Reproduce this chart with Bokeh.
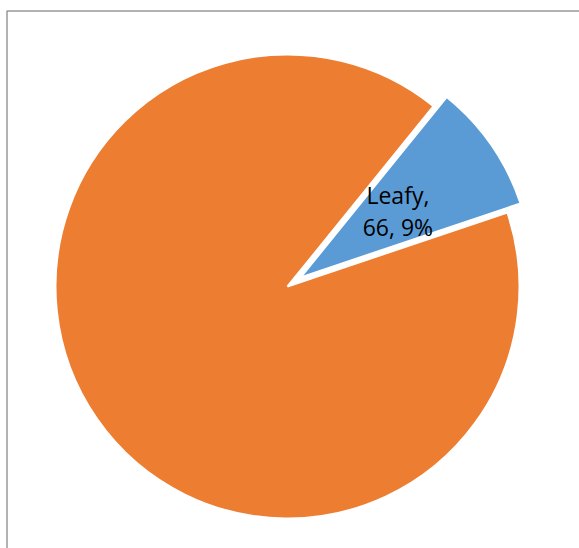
import math
from bokeh.plotting import figure
from bokeh.models import Range1d, ColumnDataSource
from bokeh.core.properties import value
from bokeh.embed import file_html
from bokeh.resources import INLINE

# ---- data ----
categories = ["Leafy", "Other"]
values = [66, 667]
colors = ["#5B9BD5", "#ED7D31"]
show_label = [True, False]
explode = [16, 0]          # px offset along bisector
first_slice_angle = 39     # degrees clockwise from 12 o'clock

W, H = 579, 548
cx, cy, R = 287, H - 286, 232

p = figure(width=W, height=H, output_backend="svg", toolbar_location=None,
           x_range=Range1d(0, W), y_range=Range1d(0, H), min_border=0,
           match_aspect=False)
p.axis.visible = False
p.grid.visible = False
p.outline_line_color = None
p.background_fill_color = "white"
p.border_fill_color = "white"

# chart-area frame (left and top visible, rest cropped by window)
p.rect(x=[(6.5 + 800) / 2], y=[(H - 10.5 - 300) / 2], width=[800 - 6.5],
       height=[H - 10.5 + 300], fill_color=None, line_color="#999999", line_width=1.5)

total = sum(values)
start = first_slice_angle
xs, ys, sa, ea, lx, ly, lt = [], [], [], [], [], [], []
for cat, v, col, ex, sl in zip(categories, values, colors, explode, show_label):
    span = 360 * v / total
    end = start + span
    mid = start + span / 2
    # convert clockwise-from-top to math angles
    m = math.radians(90 - mid)
    ox, oy = cx + ex * math.cos(m), cy + ex * math.sin(m)
    xs.append(ox); ys.append(oy)
    sa.append(math.radians(90 - end)); ea.append(math.radians(90 - start))
    if sl:
        lx.append(ox + 0.5 * R * math.cos(m) + 2)
        ly.append(oy + 0.5 * R * math.sin(m))
        lt.append(f"{cat},\n{v}, {round(100 * v / total)}%")
    start = end

src = ColumnDataSource(dict(x=xs, y=ys, sa=sa, ea=ea, c=colors))
p.wedge(x="x", y="y", radius=R, start_angle="sa", end_angle="ea",
        fill_color="c", line_color="white", line_width=2, source=src)

p.text(x=lx, y=ly, text=lt, text_align="center", text_baseline="middle",
       text_font=value("Open Sans"), text_font_size="23px", text_color="black",
       text_line_height=1.0)

open("out.html", "w").write(file_html(p, INLINE))
